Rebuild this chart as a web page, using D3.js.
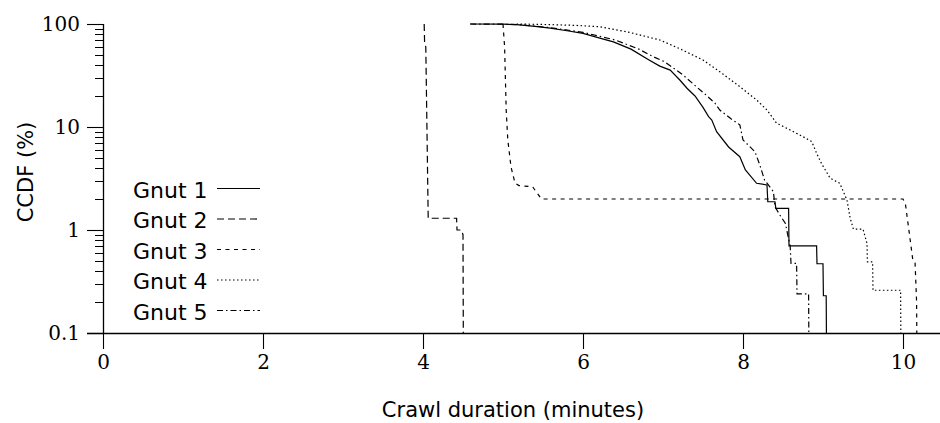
<!DOCTYPE html>
<html>
<head>
<meta charset="utf-8">
<script src="https://cdn.jsdelivr.net/npm/d3@7"></script>
<style>
  html, body { margin: 0; padding: 0; background: #fff; }
  svg { display: block; }
</style>
</head>
<body>
<svg id="chart" width="940" height="423"></svg>
<script>
// ---- data (x: crawl duration in minutes, y: CCDF in %) ----
const seriesNames = ["Gnut 1", "Gnut 2", "Gnut 3", "Gnut 4", "Gnut 5"];

const gnut1X = [4.59, 5.0, 5.17, 5.4, 5.59, 5.8, 6.0, 6.21, 6.38, 6.6, 6.82, 6.96, 7.09, 7.21, 7.30, 7.40, 7.50, 7.57, 7.61, 7.67, 7.82, 7.96, 8.03, 8.17, 8.30, 8.31, 8.40, 8.41, 8.57, 8.575, 8.92, 8.925, 9.00, 9.005, 9.04, 9.045];
const gnut1Y = [100, 99.5, 98.5, 95, 91, 86, 81, 73, 67, 57, 45, 39, 35.7, 28.6, 23.8, 20, 15.5, 12.6, 11.7, 9.0, 6.4, 5.15, 3.83, 2.84, 2.74, 1.88, 1.88, 1.62, 1.62, 0.70, 0.70, 0.47, 0.47, 0.23, 0.23, 0.05];

const gnut2X = [4.015, 4.02, 4.035, 4.05, 4.065, 4.42, 4.425, 4.48, 4.50, 4.505];
const gnut2Y = [100, 65, 60, 9, 1.3, 1.3, 1.0, 1.0, 0.9, 0.05];

const gnut3X = [5.0, 5.02, 5.04, 5.06, 5.10, 5.15, 5.20, 5.37, 5.48, 10.0, 10.03, 10.09, 10.12, 10.15, 10.17, 10.175];
const gnut3Y = [100, 60, 14.6, 7.5, 4.1, 2.86, 2.7, 2.63, 2.0, 2.0, 1.8, 0.8, 0.53, 0.5, 0.2, 0.05];

const gnut4X = [5.17, 5.5, 5.9, 6.21, 6.55, 6.96, 7.2, 7.5, 7.71, 7.95, 8.17, 8.30, 8.42, 8.59, 8.75, 8.86, 8.92, 8.98, 9.09, 9.21, 9.30, 9.34, 9.38, 9.50, 9.55, 9.555, 9.62, 9.625, 9.97, 9.975];
const gnut4Y = [100, 99, 97, 94, 84, 70, 58, 44.7, 34.4, 25, 18.3, 14.6, 10.9, 9.35, 8.05, 7.2, 5.56, 4.44, 3.18, 2.84, 1.95, 1.3, 1.02, 1.02, 0.74, 0.49, 0.49, 0.26, 0.26, 0.05];

const gnut5X = [4.59, 5.0, 5.2, 5.6, 6.0, 6.4, 6.7, 6.88, 7.02, 7.25, 7.42, 7.54, 7.65, 7.71, 7.85, 7.96, 8.0, 8.15, 8.21, 8.27, 8.38, 8.40, 8.46, 8.53, 8.59, 8.60, 8.67, 8.675, 8.82, 8.825];
const gnut5Y = [100, 99.5, 98.5, 92, 83, 70, 57, 48, 43, 32, 24.5, 20.4, 17, 14.6, 12, 10.5, 7.5, 5.75, 4.28, 3.05, 2.36, 1.68, 1.4, 1.16, 0.69, 0.475, 0.475, 0.24, 0.24, 0.05];

const xTicks = [0, 2, 4, 6, 8, 10];
const yTicks = [0.1, 1, 10, 100];
const yTickLabels = ["0.1", "1", "10", "100"];
const xTitle = "Crawl duration (minutes)";
const yTitle = "CCDF (%)";

// ---- styles ----
const dashes = ["none", "7,4", "4,4.5", "1.5,2.5", "6,3,1.5,3"];
const allX = [gnut1X, gnut2X, gnut3X, gnut4X, gnut5X];
const allY = [gnut1Y, gnut2Y, gnut3Y, gnut4Y, gnut5Y];

const svg = d3.select("#chart");
const mLeft = 103, mTop = 24, mBottom = 333, mRight = 940;

const x = d3.scaleLinear().domain([0, (mRight - mLeft) / 80]).range([mLeft, mRight]);
const y = d3.scaleLog().domain([0.1, 100]).range([mBottom, mTop]);

svg.append("defs").append("clipPath").attr("id", "plotclip")
  .append("rect").attr("x", mLeft).attr("y", mTop - 2).attr("width", mRight - mLeft).attr("height", mBottom - mTop + 2);

// ---- axes ----
const tickFont = "'DejaVu Serif', serif";
const sansFont = "'DejaVu Sans', sans-serif";

const xAxis = d3.axisBottom(x).tickValues(xTicks).tickSize(16).tickPadding(6).tickFormat(d3.format("d"));
const gx = svg.append("g").attr("transform", `translate(0,${mBottom})`).call(xAxis);
gx.select(".domain").attr("d", `M${mLeft - 16},0.5H${mRight}`).attr("stroke", "#000").attr("stroke-width", 1.3);
gx.selectAll(".tick line").attr("stroke", "#000").attr("stroke-width", 1.1);
gx.selectAll(".tick text").attr("font-family", tickFont).attr("font-size", 20).attr("fill", "#000");

// minor y ticks
const minor = [];
[0.1, 1, 10].forEach(d => { for (let k = 2; k <= 9; k++) minor.push(d * k); });
svg.append("g").selectAll("line").data(minor).join("line")
  .attr("x1", mLeft - 8).attr("x2", mLeft)
  .attr("y1", d => Math.round(y(d)) + 0.5).attr("y2", d => Math.round(y(d)) + 0.5)
  .attr("stroke", "#000").attr("stroke-width", 1);

const yAxis = d3.axisLeft(y).tickValues(yTicks).tickSize(16).tickPadding(7)
  .tickFormat((d, i) => yTickLabels[i]);
const gy = svg.append("g").attr("transform", `translate(${mLeft},0)`).call(yAxis);
gy.select(".domain").attr("d", `M0.5,${mTop}V${mBottom}`).attr("stroke", "#000").attr("stroke-width", 1.3);
gy.selectAll(".tick line").attr("stroke", "#000").attr("stroke-width", 1.1);
gy.selectAll(".tick text").attr("font-family", tickFont).attr("font-size", 20).attr("fill", "#000");

// axis titles
svg.append("text").attr("x", 513).attr("y", 417).attr("text-anchor", "middle")
  .attr("font-family", sansFont).attr("font-size", 21).attr("fill", "#000").text(xTitle);
svg.append("text").attr("transform", "translate(33,172) rotate(-90)").attr("text-anchor", "middle")
  .attr("font-family", sansFont).attr("font-size", 21).attr("fill", "#000").text(yTitle);

// ---- lines ----
const line = d3.line().x(d => x(d[0])).y(d => y(Math.max(d[1], 0.05)));
const plot = svg.append("g").attr("clip-path", "url(#plotclip)");
seriesNames.forEach((name, i) => {
  const pts = allX[i].map((v, j) => [v, allY[i][j]]);
  plot.append("path").datum(pts)
    .attr("d", line).attr("fill", "none").attr("stroke", "#000")
    .attr("stroke-width", 1.2).attr("stroke-dasharray", dashes[i]);
});

// ---- legend ----
const legY0 = 190, legDy = 30.5;
const leg = svg.append("g");
seriesNames.forEach((name, i) => {
  const yy = legY0 + i * legDy;
  leg.append("text").attr("x", 133).attr("y", yy + 7.5)
    .attr("font-family", sansFont).attr("font-size", 22).attr("fill", "#000").text(name);
  leg.append("line").attr("x1", 217).attr("x2", 260).attr("y1", yy - 1.5).attr("y2", yy - 1.5)
    .attr("stroke", "#000").attr("stroke-width", 1.2).attr("stroke-dasharray", dashes[i]);
});
</script>
</body>
</html>
